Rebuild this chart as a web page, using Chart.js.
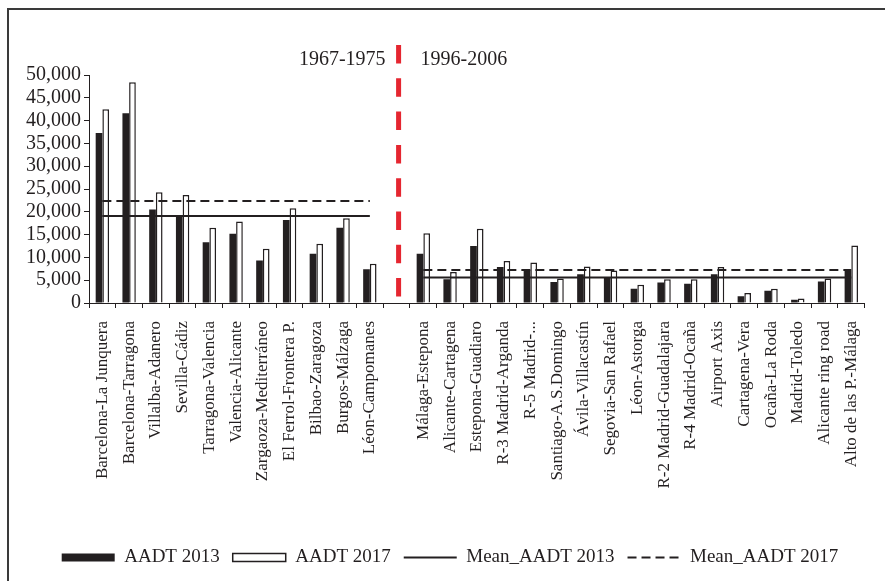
<!DOCTYPE html>
<html>
<head>
<meta charset="utf-8">
<script src="https://cdn.jsdelivr.net/npm/chart.js@4.4.1/dist/chart.umd.min.js"></script>
<style>
  body { margin: 0; background: #fff; }
  #wrap { width: 885px; height: 581px; }
</style>
</head>
<body>
<div id="wrap"><canvas id="myChart" width="885" height="581"></canvas></div>
<script>
// roads, first period (11), gap, second period (17)
const roads = ['Barcelona-La Junquera', 'Barcelona-Tarragona', 'Villalba-Adanero', 'Sevilla-Cádiz',
	'Tarragona-Valencia', 'Valencia-Alicante', 'Zargaoza-Mediterráneo', 'El Ferrol-Frontera P.',
	'Bilbao-Zaragoza', 'Burgos-Málzaga', 'Léon-Campomanes', '',
	'Málaga-Estepona', 'Alicante-Cartagena', 'Estepona-Guadiaro', 'R-3 Madrid-Arganda', 'R-5 Madrid-...',
	'Santiago-A.S.Domingo', 'Ávila-Villacastín', 'Segovia-San Rafael', 'Léon-Astorga',
	'R-2 Madrid-Guadalajara', 'R-4 Madrid-Ocaña', 'Airport Axis', 'Cartagena-Vera', 'Ocaña-La Roda',
	'Madrid-Toledo', 'Alicante ring road', 'Alto de las P.-Málaga'];
const aadt2013 = [37300, 41600, 20500, 19200, 13300, 15200, 9300, 18200, 10800, 16500, 7400, null,
	10800, 5200, 12500, 7900, 7300, 4600, 6300, 5600, 3100, 4500, 4200, 6300, 1500, 2700, 700, 4700, 7000];
const aadt2017 = [42500, 48400, 24300, 23700, 16500, 17900, 11900, 20800, 13000, 18600, 8600, null,
	15300, 6800, 16300, 9200, 8900, 5400, 8000, 7100, 4000, 5200, 5200, 7900, 2200, 3100, 1000, 5400, 12600];
const periods = ['1967-1975', '1996-2006'];
const periodSize = [11, 17];
const mean2013 = [19100, 5600];
const mean2017 = [22350, 7250];
const yTicks = [0, 5000, 10000, 15000, 20000, 25000, 30000, 35000, 40000, 45000, 50000];

const ink = '#231f20';

// mean lines per period, gap category stays empty
function meanLine(means) {
	let out = [];
	for (let g = 0; g < periodSize.length; g++) {
		for (let i = 0; i < periodSize[g]; i++) out.push(means[g]);
		if (g < periodSize.length - 1) out.push(null);
	}
	return out;
}
const gapIndex = periodSize[0];

const extras = {
	id: 'extras',
	afterLayout(chart) {
		// legend sits a little right of the canvas centre
		chart.legend.left += 16;
		chart.legend.right += 16;
	},
	beforeDraw(chart) {
		const c = chart.ctx;
		c.save();
		c.strokeStyle = '#3a3a3a';
		c.lineWidth = 2;
		c.strokeRect(8, 9, 900, 600);
		c.restore();
	},
	afterDraw(chart) {
		const c = chart.ctx;
		const x = chart.scales.x.getPixelForValue(gapIndex) + 2;
		c.save();
		c.strokeStyle = '#e52630';
		c.lineWidth = 5;
		c.setLineDash([18.5, 14.8]);
		c.beginPath();
		c.moveTo(x, 45);
		c.lineTo(x, chart.chartArea.bottom - 4);
		c.stroke();
		c.setLineDash([]);
		c.fillStyle = ink;
		c.font = '20px "Liberation Serif", serif';
		c.textBaseline = 'middle';
		c.textAlign = 'right';
		c.fillText(periods[0], x - 13, 60);
		c.textAlign = 'left';
		c.fillText(periods[1], x + 22, 60);
		c.restore();
	}
};

Chart.defaults.font.family = '"Liberation Serif", "Times New Roman", serif';
Chart.defaults.color = ink;

const ctx = document.getElementById('myChart');
new Chart(ctx, {
	type: 'bar',
	data: {
		labels: roads,
		datasets: [{
			label: 'AADT 2013',
			data: aadt2013,
			backgroundColor: ink,
			borderWidth: 0,
			categoryPercentage: 0.5,
			barPercentage: 1.0,
			order: 2
		}, {
			label: 'AADT 2017',
			data: aadt2017,
			backgroundColor: '#ffffff',
			borderColor: ink,
			borderWidth: 1.5,
			categoryPercentage: 0.5,
			barPercentage: 1.0,
			order: 2
		}, {
			type: 'line',
			label: 'Mean_AADT 2013',
			data: meanLine(mean2013),
			borderColor: ink,
			backgroundColor: 'transparent',
			borderWidth: 2,
			pointRadius: 0,
			spanGaps: false,
			order: 1
		}, {
			type: 'line',
			label: 'Mean_AADT 2017',
			data: meanLine(mean2017),
			borderColor: ink,
			backgroundColor: 'transparent',
			borderWidth: 2,
			borderDash: [9, 5],
			pointRadius: 0,
			spanGaps: false,
			order: 1
		}]
	},
	options: {
		responsive: false,
		animation: false,
		layout: { padding: { left: 0, right: 17, top: 75, bottom: 4 } },
		plugins: {
			tooltip: { enabled: false },
			legend: {
				position: 'bottom',
				labels: {
					font: { size: 19 },
					color: ink,
					usePointStyle: true,
					pointStyleWidth: 53,
					boxHeight: 8,
					padding: 13,
					sort: (a, b) => a.datasetIndex - b.datasetIndex,
					generateLabels(chart) {
						const items = Chart.defaults.plugins.legend.labels.generateLabels(chart);
						items.forEach(it => {
							const ds = chart.data.datasets[it.datasetIndex];
							it.pointStyle = ds.type === 'line' ? 'line' : 'rect';
							if (ds.type === 'line') {
								it.fillStyle = 'transparent';
								it.lineDash = ds.borderDash || [];
								it.lineWidth = 2;
							}
						});
						return items;
					}
				}
			}
		},
		scales: {
			x: {
				grid: { drawOnChartArea: false, tickLength: 5, color: ink, offset: true },
				border: { color: ink, width: 1 },
				ticks: { autoSkip: false, minRotation: 90, maxRotation: 90, padding: 13, font: { size: 17 }, color: ink },
				afterFit(scale) { scale.height = 232; }
			},
			y: {
				min: 0,
				max: 50000,
				afterBuildTicks(scale) { scale.ticks = yTicks.map(v => ({ value: v })); },
				grid: { drawOnChartArea: false, tickLength: 5, color: ink },
				border: { color: ink, width: 1 },
				ticks: {
					autoSkip: false,
					padding: 3,
					font: { size: 20 },
					color: ink,
					callback: v => v.toLocaleString('en-US')
				},
				afterFit(scale) { scale.width = 89; }
			}
		}
	},
	plugins: [extras]
});
</script>
</body>
</html>
